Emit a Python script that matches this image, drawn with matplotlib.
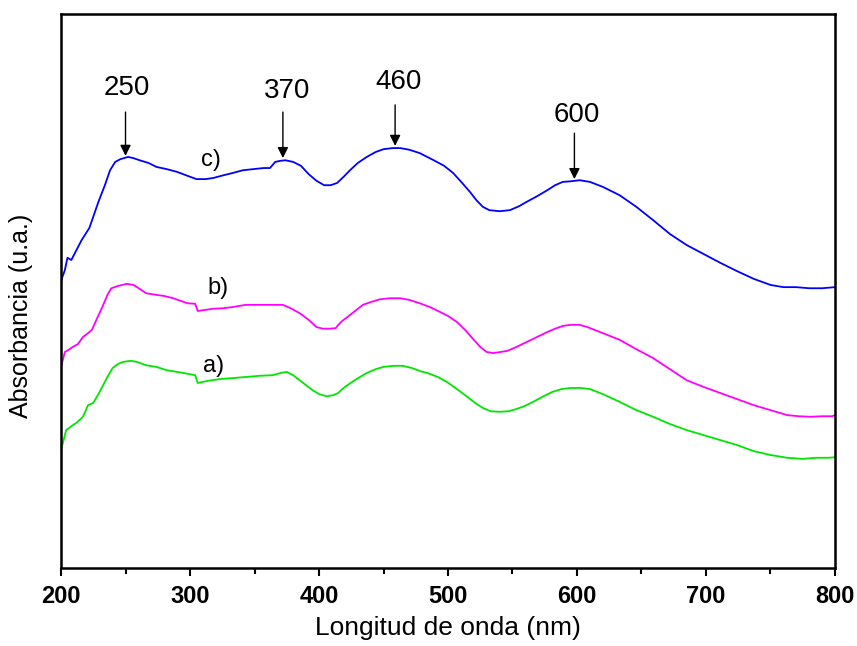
import matplotlib
matplotlib.use("Agg")
import matplotlib.pyplot as plt
from matplotlib.ticker import MultipleLocator

plt.rcParams['font.family'] = ['Liberation Sans', 'DejaVu Sans']

# curva c) (azul)
wl_c = [200, 201, 203, 205, 208, 212, 216, 222, 229, 234, 238, 242, 246, 252, 256, 261, 268, 274, 282, 290,
        298, 305, 312, 318, 326, 333, 341, 349, 357, 362, 366, 370, 374, 380, 386, 392, 398, 404, 409, 414,
        419, 424, 430, 437, 444, 450, 457, 463, 470, 478, 489, 497, 504, 511, 517, 522, 527, 532, 540, 548,
        555, 561, 569, 577, 583, 589, 595, 602, 610, 620, 633, 646, 659, 672, 685, 698, 711, 724, 737, 750,
        760, 770, 780, 790, 800]
abs_c = [0.516, 0.525, 0.538, 0.560, 0.556, 0.574, 0.592, 0.614, 0.661, 0.691, 0.718, 0.733, 0.738, 0.742, 0.740,
         0.736, 0.731, 0.724, 0.720, 0.715, 0.708, 0.702, 0.702, 0.704, 0.709, 0.713, 0.718, 0.720, 0.722, 0.722,
         0.733, 0.735, 0.736, 0.733, 0.726, 0.711, 0.699, 0.691, 0.691, 0.695, 0.706, 0.718, 0.731, 0.742, 0.751,
         0.756, 0.758, 0.758, 0.755, 0.749, 0.736, 0.726, 0.713, 0.695, 0.679, 0.664, 0.652, 0.646, 0.644, 0.646,
         0.653, 0.661, 0.671, 0.682, 0.691, 0.697, 0.698, 0.700, 0.697, 0.688, 0.673, 0.652, 0.628, 0.603, 0.583,
         0.567, 0.551, 0.536, 0.522, 0.511, 0.507, 0.507, 0.505, 0.505, 0.507]

# curva b) (magenta)
wl_b = [200, 203, 206, 209, 213, 217, 221, 224, 228, 232, 236, 239, 244, 251, 256, 259, 266, 274, 280, 287,
        293, 298, 304, 306, 312, 318, 326, 333, 343, 352, 362, 372, 378, 385, 392, 398, 403, 408, 413, 415,
        418, 422, 428, 434, 440, 447, 455, 463, 470, 478, 486, 494, 500, 507, 514, 520, 525, 530, 535, 541,
        546, 553, 561, 569, 577, 583, 589, 595, 602, 608, 620, 633, 646, 659, 672, 685, 698, 711, 724, 737,
        750, 763, 772, 781, 790, 798, 800]
abs_b = [0.363, 0.390, 0.394, 0.399, 0.404, 0.417, 0.424, 0.430, 0.451, 0.471, 0.493, 0.505, 0.509, 0.513, 0.511,
         0.507, 0.496, 0.493, 0.491, 0.487, 0.482, 0.478, 0.477, 0.464, 0.466, 0.468, 0.469, 0.471, 0.475, 0.475,
         0.475, 0.475, 0.469, 0.460, 0.448, 0.435, 0.432, 0.432, 0.433, 0.439, 0.446, 0.453, 0.464, 0.475, 0.480,
         0.485, 0.487, 0.487, 0.484, 0.478, 0.471, 0.462, 0.455, 0.444, 0.428, 0.412, 0.399, 0.390, 0.388, 0.390,
         0.392, 0.399, 0.408, 0.417, 0.426, 0.432, 0.437, 0.439, 0.439, 0.435, 0.424, 0.412, 0.395, 0.379, 0.359,
         0.339, 0.327, 0.316, 0.305, 0.294, 0.285, 0.276, 0.274, 0.273, 0.274, 0.274, 0.276]

# curva a) (verde)
wl_a = [200, 202, 204, 208, 212, 217, 221, 225, 229, 232, 236, 240, 244, 248, 254, 259, 266, 274, 282, 290,
        295, 304, 306, 314, 323, 334, 344, 354, 364, 370, 375, 380, 385, 390, 395, 400, 406, 411, 415, 418,
        422, 429, 437, 444, 450, 458, 465, 472, 479, 484, 492, 499, 507, 515, 521, 527, 533, 540, 547, 553,
        559, 566, 574, 581, 588, 595, 603, 610, 620, 633, 646, 659, 672, 685, 698, 711, 724, 737, 750, 763,
        775, 785, 795, 800]
abs_a = [0.213, 0.231, 0.249, 0.256, 0.262, 0.273, 0.294, 0.298, 0.314, 0.327, 0.345, 0.361, 0.368, 0.372, 0.374,
         0.372, 0.366, 0.363, 0.357, 0.354, 0.352, 0.348, 0.334, 0.338, 0.341, 0.343, 0.345, 0.347, 0.348, 0.352,
         0.354, 0.348, 0.339, 0.330, 0.321, 0.314, 0.310, 0.312, 0.316, 0.323, 0.330, 0.341, 0.352, 0.359, 0.363,
         0.365, 0.365, 0.361, 0.355, 0.352, 0.345, 0.336, 0.323, 0.309, 0.298, 0.289, 0.283, 0.282, 0.283, 0.287,
         0.292, 0.300, 0.310, 0.318, 0.323, 0.325, 0.325, 0.323, 0.314, 0.300, 0.285, 0.273, 0.260, 0.249, 0.240,
         0.231, 0.222, 0.211, 0.204, 0.199, 0.197, 0.199, 0.199, 0.200]

# picos marcados: etiqueta, x flecha, y inicio flecha, y punta, posicion texto
picos = ['250', '370', '460', '600']
pico_x = [250, 372, 459, 598]
pico_y0 = [0.823, 0.823, 0.836, 0.785]
pico_y1 = [0.744, 0.740, 0.762, 0.702]
pico_tx = [251, 375, 462, 600]
pico_ty = [0.866, 0.861, 0.877, 0.818]

curvas = ['a)', 'b)', 'c)']
curva_tx = [318, 322, 316]
curva_ty = [0.365, 0.505, 0.736]

fig = plt.figure(figsize=(8.57, 6.46), dpi=100)
ax = fig.add_axes([0.0712, 0.1207, 0.9031, 0.8576])

ax.plot(wl_a, abs_a, color='#00e600', lw=1.3)
ax.plot(wl_b, abs_b, color='#ff00ff', lw=1.3)
ax.plot(wl_c, abs_c, color='#0000ff', lw=1.3)

for lab, x, y0, y1, tx, ty in zip(picos, pico_x, pico_y0, pico_y1, pico_tx, pico_ty):
    ax.annotate('', xy=(x, y1), xytext=(x, y0),
                arrowprops=dict(arrowstyle='-|>', color='k', lw=1, mutation_scale=16, shrinkA=0, shrinkB=0))
    ax.text(tx, ty, lab, fontsize=20, ha='center', va='center')

for lab, tx, ty in zip(curvas, curva_tx, curva_ty):
    ax.text(tx, ty, lab, fontsize=17, ha='center', va='center')

ax.set_xlim(200, 800)
ax.set_ylim(0, 1)
ax.xaxis.set_major_locator(MultipleLocator(100))
ax.xaxis.set_minor_locator(MultipleLocator(50))
ax.set_yticks([])
ax.tick_params(axis='x', which='major', direction='out', length=6, width=1.5, labelsize=17, pad=6)
ax.tick_params(axis='x', which='minor', direction='out', length=4, width=1.5)
for t in ax.get_xticklabels():
    t.set_fontweight('bold')
for s in ax.spines.values():
    s.set_linewidth(1.8)

ax.set_xlabel('Longitud de onda (nm)', fontsize=19, labelpad=6)
ax.set_ylabel('Absorbancia (u.a.)', fontsize=18)
ax.yaxis.set_label_coords(-0.036, 0.455)

plt.savefig('out.png', dpi=100)
